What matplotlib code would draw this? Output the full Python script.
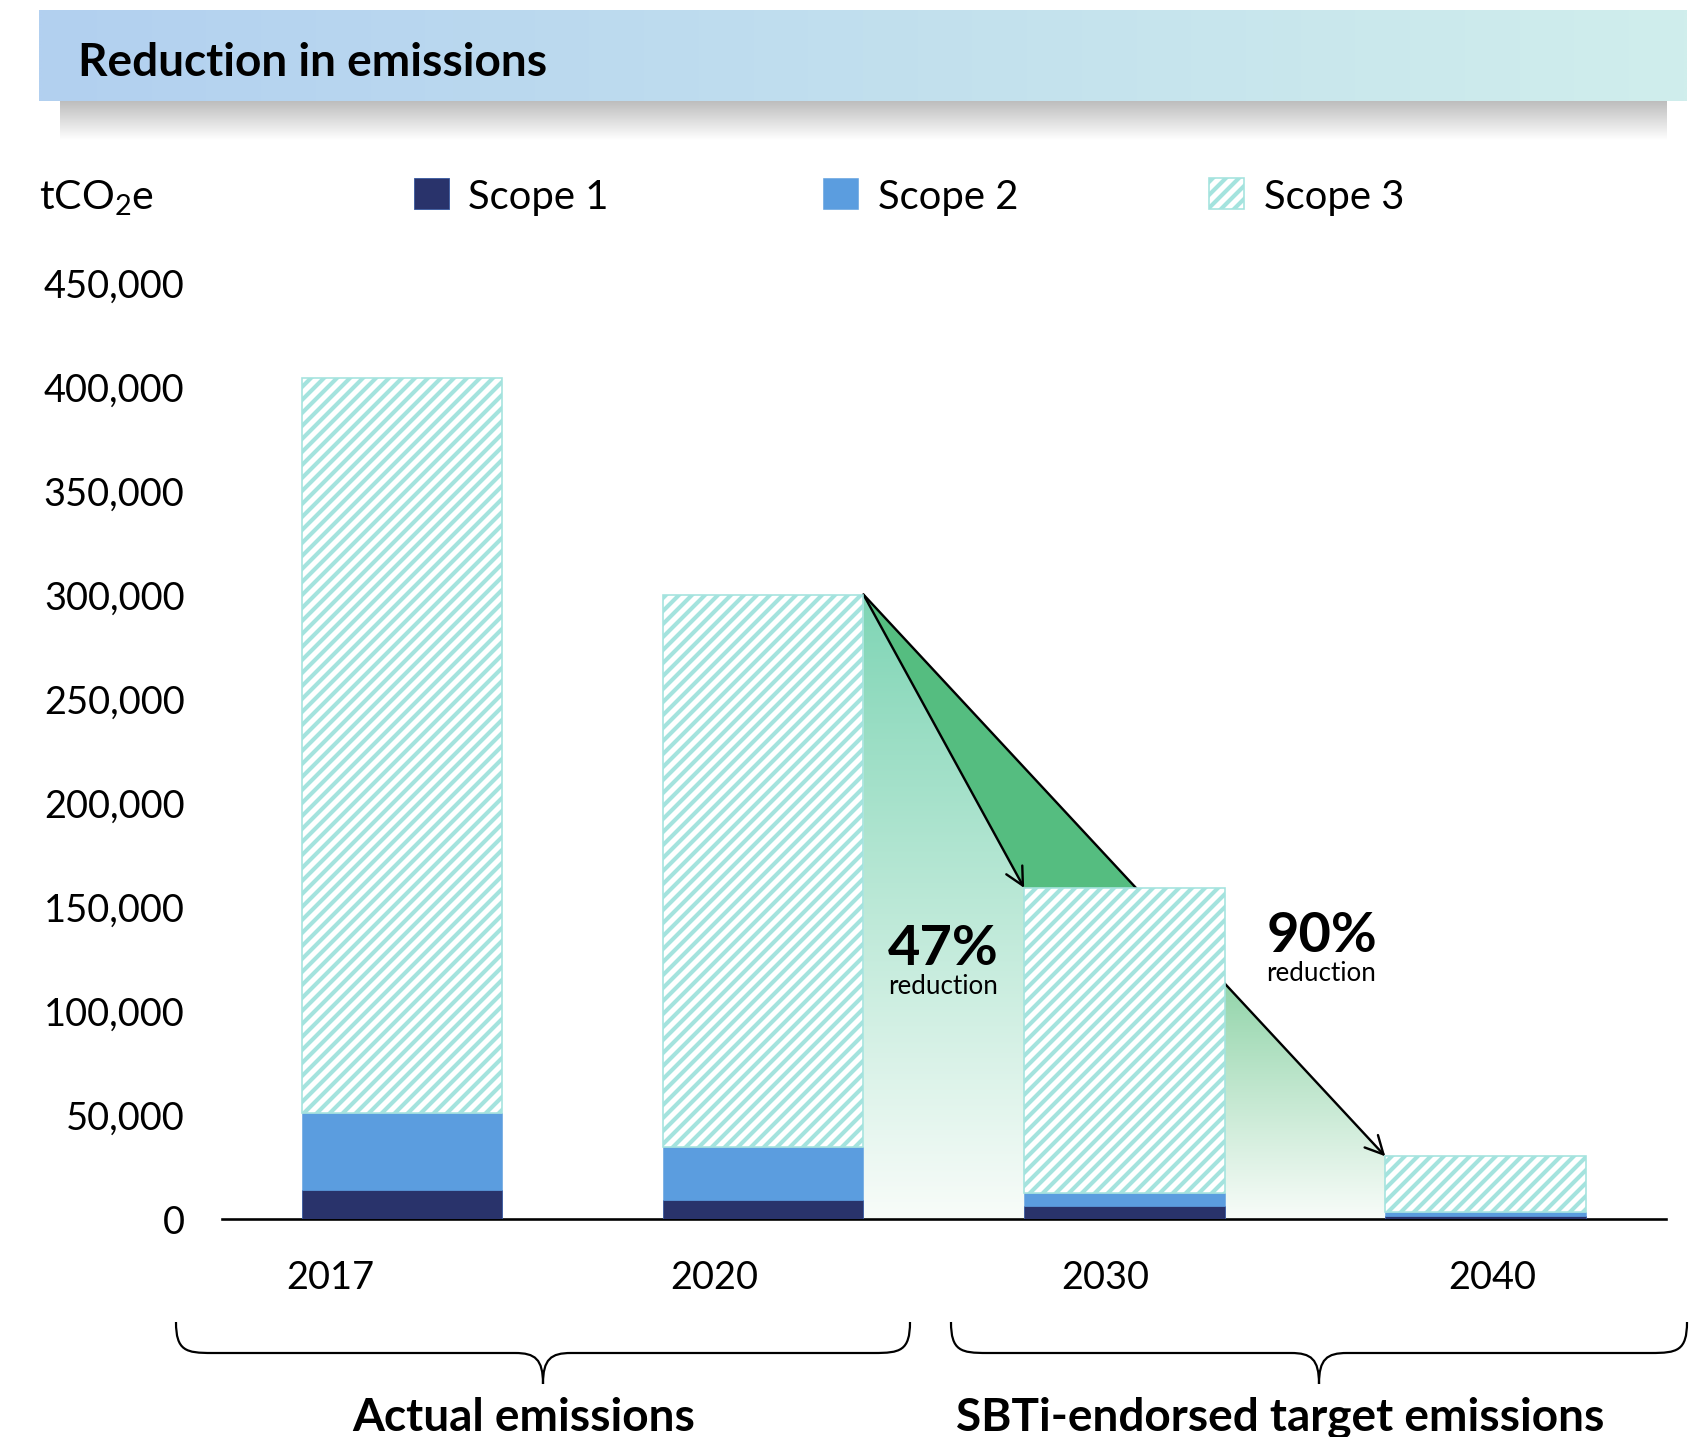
import numpy as np
import matplotlib
matplotlib.use("Agg")
import matplotlib.pyplot as plt
from matplotlib.patches import Polygon, PathPatch
from matplotlib.path import Path
from matplotlib.colors import to_rgba

# ---------------- data ----------------
years = ["2017", "2020", "2030", "2040"]
scope1 = [14000, 9000, 6000, 1500]
scope2 = [37000, 25500, 6500, 1500]
scope3 = [353000, 265500, 146500, 27000]
reduction_labels = ["47%", "90%"]
series_names = ["Scope 1", "Scope 2", "Scope 3"]
yticks = [0, 50000, 100000, 150000, 200000, 250000, 300000, 350000, 400000, 450000]

# ---------------- styling ----------------
W, H, DPI = 1703, 1438, 78
FONT = "Lato"
plt.rcParams["font.family"] = [FONT, "DejaVu Sans"]
plt.rcParams["mathtext.fontset"] = "custom"
plt.rcParams["mathtext.rm"] = FONT
plt.rcParams["mathtext.default"] = "regular"
plt.rcParams["hatch.linewidth"] = 3.8

C_S1 = "#29336b"
C_S2 = "#5b9ddf"
C_S3 = "#a4e3de"
C_DARKGREEN = "#55bd80"

def px(v):
    """pixels -> points at the figure dpi"""
    return v * 72.0 / DPI

fig = plt.figure(figsize=(W / DPI, H / DPI), dpi=DPI)

# decoration layer in pixel coordinates
deco = fig.add_axes([0, 0, 1, 1], zorder=0)
deco.set_xlim(0, W)
deco.set_ylim(H, 0)
deco.axis("off")

def hgrad(c0, c1, n=256):
    a, b = np.array(to_rgba(c0)), np.array(to_rgba(c1))
    t = np.linspace(0, 1, n)[None, :, None]
    return a + (b - a) * t

def vgrad(c_top, c_bottom, n=256):
    a, b = np.array(to_rgba(c_top)), np.array(to_rgba(c_bottom))
    t = np.linspace(0, 1, n)[:, None, None]
    return a + (b - a) * t

# header band and its soft shadow
deco.imshow(vgrad("#bdbdbd", "#ffffff"), extent=(60, 1667, 141, 102),
            aspect="auto", zorder=1, interpolation="bilinear")
deco.imshow(hgrad("#b2d0f0", "#d0eeec"), extent=(39, 1687, 102, 11),
            aspect="auto", zorder=2, interpolation="bilinear")
deco.text(78, 76, "Reduction in emissions", fontsize=px(46), fontweight="bold",
          ha="left", va="baseline", color="black", zorder=3)
deco.set_xlim(0, W)
deco.set_ylim(H, 0)

# ---------------- main chart ----------------
ax = fig.add_axes([221.6 / W, 1 - 1219.7 / H, (1666 - 221.6) / W, (1219.7 - 283.5) / H],
                  zorder=1)
ax.set_facecolor("none")

x = np.arange(len(years))
bw = 0.555
s1 = np.array(scope1)
s2 = np.array(scope2)
s3 = np.array(scope3)
total = s1 + s2 + s3

b1 = ax.bar(x, s1, bw, color=C_S1, edgecolor="#3a5aa0", linewidth=0.8, zorder=3,
            label=series_names[0])
b2 = ax.bar(x, s2, bw, bottom=s1, color=C_S2, edgecolor=C_S2, linewidth=0.5, zorder=3,
            label=series_names[1])
b3 = ax.bar(x, s3, bw, bottom=s1 + s2, color="white", edgecolor=C_S3, linewidth=1.5,
            hatch="//", zorder=3, label=series_names[2])

# reduction wedges between 2020 -> 2030 -> 2040
xr20 = x[1] + bw / 2
xl30 = x[2] - bw / 2
xr30 = x[2] + bw / 2
xl40 = x[3] - bw / 2
slope = (total[3] - total[1]) / (xl40 - xr20)
x_hit30 = xr20 + (total[2] - total[1]) / slope
y_at_r30 = total[1] + slope * (xr30 - xr20)

def gradient_fill(poly_xy, top, c_top, c_bottom, x0, x1):
    im = ax.imshow(vgrad(c_top, c_bottom)[::-1], extent=(x0, x1, 0, top),
                   origin="lower", aspect="auto", zorder=1, interpolation="bilinear")
    clip = Polygon(poly_xy, closed=True, transform=ax.transData, facecolor="none",
                   edgecolor="none")
    im.set_clip_path(clip)

gradient_fill([(xr20, 0), (xr20, total[1]), (xl30, total[2]), (xl30, 0)],
              total[1], "#7fd5b5", "#f8fcf9", xr20, xl30)
gradient_fill([(xr30, 0), (xr30, y_at_r30), (xl40, total[3]), (xl40, 0)],
              y_at_r30, "#93d5ab", "#f8fcf9", xr30, xl40)

ax.add_patch(Polygon([(xr20, total[1]), (xl30, total[2]), (x_hit30, total[2])],
                     closed=True, facecolor=C_DARKGREEN, edgecolor="none", zorder=1.5))

arrow_kw = dict(arrowstyle="->,head_length=0.55,head_width=0.28", lw=2.2, color="black",
                shrinkA=0, shrinkB=0, mutation_scale=30)
ax.annotate("", xy=(xl30, total[2]), xytext=(xr20, total[1]), arrowprops=arrow_kw,
            zorder=2)
ax.annotate("", xy=(xl40, total[3]), xytext=(xr20, total[1]), arrowprops=arrow_kw,
            zorder=2)

# reduction labels
ax.text(1.345, 130000, reduction_labels[0], fontsize=px(56), fontweight="bold",
        ha="left", va="center", zorder=4)
ax.text(1.345, 112000, "reduction", fontsize=px(26), ha="left", va="center", zorder=4)
ax.text(2.393, 136500, reduction_labels[1], fontsize=px(56), fontweight="bold",
        ha="left", va="center", zorder=4)
ax.text(2.393, 118500, "reduction", fontsize=px(26), ha="left", va="center", zorder=4)

# axes
ax.set_xlim(-0.5, 3.5)
ax.set_ylim(0, 450000)
ax.set_yticks(yticks)
ax.set_yticklabels([f"{v:,}" for v in yticks])
label_shift = [-0.2, -0.135, -0.054, 0.018]
ax.set_xticks(x + np.array(label_shift))
ax.set_xticklabels(years)
ax.tick_params(axis="y", length=0, pad=px(37), labelsize=px(38))
ax.tick_params(axis="x", length=0, pad=px(40), labelsize=px(38))
for side in ("left", "right", "top"):
    ax.spines[side].set_visible(False)
ax.spines["bottom"].set_linewidth(px(2.6))
ax.spines["bottom"].set_color("black")

# unit label
fig.text(39 / W, 1 - 198 / H, "tCO$_2$e", fontsize=px(41), ha="left", va="center")

# legend, one entry per position
F = 40
for handle, name, lx in zip([b1, b2, b3], series_names, [414, 823, 1209]):
    fig.legend([handle], [name], loc="center left",
               bbox_to_anchor=(lx / W, 1 - 197 / H), frameon=False,
               fontsize=px(F), handlelength=35 / F, handleheight=0.83,
               handletextpad=19.5 / F, borderpad=0, borderaxespad=0)

# braces grouping the years
def brace(x0, x1, ytop=1323, ymid=1354, ytip=1385):
    xc = (x0 + x1) / 2
    verts = [
        (x0, ytop), (x0, ymid - 2), (x0 + 10, ymid), (x0 + 36, ymid),
        (xc - 28, ymid),
        (xc - 8, ymid), (xc, ymid + 6), (xc, ytip),
        (xc, ymid + 6), (xc + 8, ymid), (xc + 28, ymid),
        (x1 - 36, ymid),
        (x1 - 10, ymid), (x1, ymid - 2), (x1, ytop),
    ]
    codes = [Path.MOVETO, Path.CURVE4, Path.CURVE4, Path.CURVE4,
             Path.LINETO,
             Path.CURVE4, Path.CURVE4, Path.CURVE4,
             Path.CURVE4, Path.CURVE4, Path.CURVE4,
             Path.LINETO,
             Path.CURVE4, Path.CURVE4, Path.CURVE4]
    deco.add_patch(PathPatch(Path(verts, codes), facecolor="none", edgecolor="black",
                             lw=px(2.2), zorder=3))

brace(176, 910)
brace(951, 1687)
deco.text(524, 1431, "Actual emissions", fontsize=px(46), fontweight="bold",
          ha="center", va="baseline", zorder=3)
deco.text(1280, 1431, "SBTi-endorsed target emissions", fontsize=px(46),
          fontweight="bold", ha="center", va="baseline", zorder=3)

fig.savefig("out.png", dpi=DPI, facecolor="white")
